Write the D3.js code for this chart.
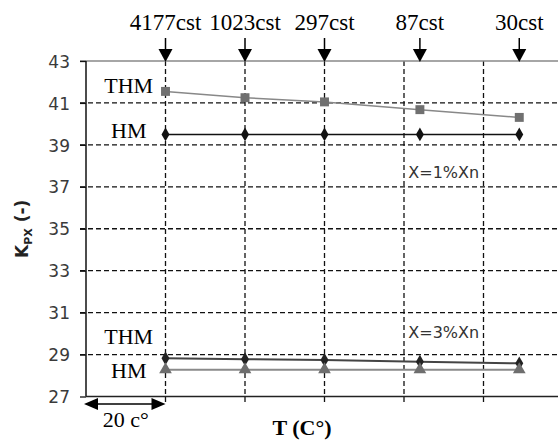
<!DOCTYPE html>
<html>
<head>
<meta charset="utf-8">
<script src="https://cdn.jsdelivr.net/npm/d3@7"></script>
<style>
  html, body { margin: 0; padding: 0; background: #fff; }
  svg { display: block; }
</style>
</head>
<body>
<svg id="chart" width="558" height="442"></svg>
<script>
// DATA
const temps = [40, 60, 80, 104, 129];
const viscLabels = ["4177cst", "1023cst", "297cst", "87cst", "30cst"];
const thm1 = [41.55, 41.25, 41.05, 40.68, 40.31];
const hm1 = [39.5, 39.5, 39.5, 39.5, 39.5];
const thm3 = [28.82, 28.78, 28.74, 28.66, 28.58];
const hm3 = [28.28, 28.28, 28.28, 28.28, 28.28];
const yTicks = [27, 29, 31, 33, 35, 37, 39, 41, 43];
const xGrid = [40, 60, 80, 100, 120];

const width = 558, height = 442;
const margin = {left: 86, top: 61, bottom: 46};

const svg = d3.select("#chart");

// SCALES
const x = d3.scaleLinear().domain([20, 140]).range([margin.left, margin.left + 6 * 79.5]);
const y = d3.scaleLinear().domain([27, 43]).range([height - margin.bottom + 0.5, margin.top]);

const yBottom = y(27);

// GRID (dashed)
svg.append("g").selectAll("line")
  .data(yTicks.filter(d => d > 27 && d < 43))
  .join("line")
  .attr("x1", margin.left - 6).attr("x2", width)
  .attr("y1", d => y(d)).attr("y2", d => y(d))
  .attr("stroke", "#111").attr("stroke-width", 1.3)
  .attr("stroke-dasharray", "5,3");

svg.append("g").selectAll("line")
  .data(xGrid)
  .join("line")
  .attr("x1", d => x(d)).attr("x2", d => x(d))
  .attr("y1", y(43)).attr("y2", yBottom + 6)
  .attr("stroke", "#111").attr("stroke-width", 1.3)
  .attr("stroke-dasharray", "5,3");

// top border
svg.append("line")
  .attr("x1", margin.left - 6).attr("x2", width)
  .attr("y1", y(43)).attr("y2", y(43))
  .attr("stroke", "#888").attr("stroke-width", 1.5);

// AXES
const yAxis = svg.append("g")
  .attr("transform", `translate(${margin.left},0)`)
  .call(d3.axisLeft(y).tickValues(yTicks).tickSize(6).tickPadding(10));
yAxis.select(".domain").attr("stroke", "#111").attr("stroke-width", 1.5)
  .attr("d", `M0,${y(43)}V${yBottom}`);
yAxis.selectAll(".tick line").attr("stroke", "#111").attr("stroke-width", 1.3).attr("x2", -6);
yAxis.selectAll(".tick text")
  .attr("font-family", "DejaVu Sans, sans-serif")
  .attr("font-size", 17).attr("fill", "#3a3a3a")
  .attr("dy", "0.36em");

svg.append("line")
  .attr("x1", margin.left).attr("x2", width)
  .attr("y1", yBottom).attr("y2", yBottom)
  .attr("stroke", "#222").attr("stroke-width", 1.5);

// y label  K_PX (-)
const yl = svg.append("text")
  .attr("transform", `translate(28,${(y(43) + yBottom) / 2}) rotate(-90)`)
  .attr("text-anchor", "middle")
  .attr("font-family", "DejaVu Sans, sans-serif")
  .attr("font-weight", "bold")
  .attr("font-size", 17)
  .attr("fill", "#222");
yl.append("tspan").text("K");
yl.append("tspan").attr("font-size", 11).attr("dy", 4).text("PX");
yl.append("tspan").attr("dy", -4).text(" (-)");

// SERIES
const line = d3.line().x((d, i) => x(temps[i])).y(d => y(d));

const series = [
  {data: thm1, color: "#888", width: 1.5, marker: "square", mcolor: "#707070"},
  {data: hm1, color: "#111", width: 1.5, marker: "diamond", mcolor: "#111"},
  {data: thm3, color: "#444", width: 2, marker: "diamond", mcolor: "#222"},
  {data: hm3, color: "#8a8a8a", width: 2, marker: "triangle", mcolor: "#6e6e6e"}
];

const symbols = {
  square: d3.symbol().type(d3.symbolSquare).size(80),
  diamond: d3.symbol().type(d3.symbolDiamond).size(55),
  triangle: d3.symbol().type(d3.symbolTriangle).size(70)
};

series.forEach(s => {
  svg.append("path")
    .datum(s.data)
    .attr("d", line)
    .attr("fill", "none")
    .attr("stroke", s.color)
    .attr("stroke-width", s.width);

  svg.append("g").selectAll("path")
    .data(s.data)
    .join("path")
    .attr("transform", (d, i) => `translate(${x(temps[i])},${y(d)})`)
    .attr("d", symbols[s.marker])
    .attr("fill", s.mcolor);
});

// TOP VISCOSITY ARROWS
const serif = "Liberation Serif, Times New Roman, serif";
const arrowsTop = svg.append("g");
temps.forEach((t, i) => {
  const cx = x(t);
  arrowsTop.append("line")
    .attr("x1", cx).attr("x2", cx)
    .attr("y1", 38).attr("y2", 50)
    .attr("stroke", "#000").attr("stroke-width", 1.5);
  arrowsTop.append("path")
    .attr("d", `M${cx - 7},49L${cx + 7},49L${cx},${y(43) + 1}Z`)
    .attr("fill", "#000");
  arrowsTop.append("text")
    .attr("x", cx).attr("y", 30)
    .attr("text-anchor", "middle")
    .attr("font-family", serif)
    .attr("font-size", 23)
    .attr("fill", "#000")
    .text(viscLabels[i]);
});

// SERIES NAME LABELS
const nameLabels = [
  {text: "THM", v: thm1[0], dy: 2},
  {text: "HM", v: hm1[0], dy: 4},
  {text: "THM", v: thm3[0], dy: -14},
  {text: "HM", v: hm3[0], dy: 8}
];
svg.append("g").selectAll("text")
  .data(nameLabels)
  .join("text")
  .attr("x", (margin.left + x(40)) / 2 + 3)
  .attr("y", d => y(d.v) + d.dy)
  .attr("text-anchor", "middle")
  .attr("font-family", serif)
  .attr("font-size", 22)
  .attr("fill", "#000")
  .text(d => d.text);

// X= annotations
[["X=1%Xn", 178], ["X=3%Xn", 338]].forEach(([txt, by]) => {
  svg.append("text")
    .attr("x", (x(100) + x(120)) / 2)
    .attr("y", by)
    .attr("text-anchor", "middle")
    .attr("font-family", "DejaVu Sans, sans-serif")
    .attr("font-size", 16)
    .attr("fill", "#333")
    .text(txt);
});

// 20 c° double arrow
const ay = 404, ax0 = x(20), ax1 = x(40);
svg.append("line")
  .attr("x1", ax0 + 10).attr("x2", ax1 - 10)
  .attr("y1", ay).attr("y2", ay)
  .attr("stroke", "#000").attr("stroke-width", 1.3);
svg.append("path").attr("d", `M${ax0 - 2},${ay}L${ax0 + 12},${ay - 6}L${ax0 + 12},${ay + 6}Z`).attr("fill", "#000");
svg.append("path").attr("d", `M${ax1},${ay}L${ax1 - 14},${ay - 6}L${ax1 - 14},${ay + 6}Z`).attr("fill", "#000");
svg.append("text")
  .attr("x", (ax0 + ax1) / 2).attr("y", 427)
  .attr("text-anchor", "middle")
  .attr("font-family", serif).attr("font-size", 22)
  .text("20 c°");

// x label
svg.append("text")
  .attr("x", 302).attr("y", 435)
  .attr("text-anchor", "middle")
  .attr("font-family", serif).attr("font-size", 22).attr("font-weight", "bold")
  .text("T (C°)");
</script>
</body>
</html>
